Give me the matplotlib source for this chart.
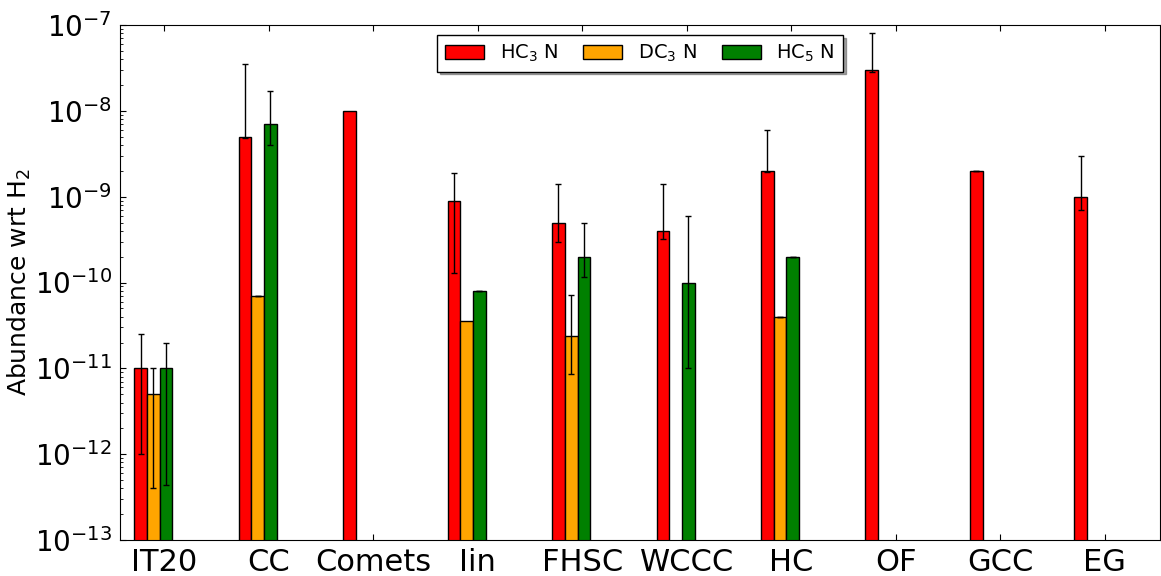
import numpy as np
from matplotlib import pyplot as plt

nan = np.nan

sources = ['IT20', 'CC', 'Comets', 'Iin', 'FHSC', 'WCCC', 'HC', 'OF', 'GCC', 'EG']

# abundances and lower / upper limits of the error bars
hc3n = [1e-11, 5e-9, 1e-8, 9e-10, 5e-10, 4e-10, 2e-9, 3e-8, 2e-9, 1e-9]
hc3n_lo = [1e-12, 4.8e-9, nan, 1.3e-10, 3e-10, 3.2e-10, 1.95e-9, 2.85e-8, 2e-9, 7e-10]
hc3n_hi = [2.5e-11, 3.5e-8, nan, 1.9e-9, 1.4e-9, 1.4e-9, 6e-9, 8e-8, 2e-9, 3e-9]

dc3n = [5e-12, 7e-11, nan, 3.6e-11, 2.4e-11, nan, 4e-11, nan, nan, nan]
dc3n_lo = [4e-13, 7e-11, nan, nan, 8.7e-12, nan, 4e-11, nan, nan, nan]
dc3n_hi = [1e-11, 7e-11, nan, nan, 7.2e-11, nan, 4e-11, nan, nan, nan]

hc5n = [1e-11, 7e-9, nan, 8e-11, 2e-10, 1e-10, 2e-10, nan, nan, nan]
hc5n_lo = [4.4e-13, 4e-9, nan, 8e-11, 1.17e-10, 1e-11, 2e-10, nan, nan, nan]
hc5n_hi = [2e-11, 1.7e-8, nan, 8e-11, 5e-10, 6e-10, 2e-10, nan, nan, nan]

labels = ['HC$_3$ N', 'DC$_3$ N', 'HC$_5$ N']
colors = ['red', 'orange', 'green']
offsets = [-0.229, -0.107, 0.015]
width = 0.122

fig = plt.figure(figsize=(11.61, 5.76), dpi=100)
ax = fig.add_axes([0.1034, 0.0625, 0.8958, 0.894])

ind = np.arange(len(sources))
series = [(hc3n, hc3n_lo, hc3n_hi), (dc3n, dc3n_lo, dc3n_hi), (hc5n, hc5n_lo, hc5n_hi)]
for (vals, lo, hi), lab, col, off in zip(series, labels, colors, offsets):
    vals = np.array(vals)
    lo = np.array(lo)
    hi = np.array(hi)
    ok = ~np.isnan(vals)
    ax.bar(ind[ok] + off, vals[ok], width, color=col, edgecolor='black',
           linewidth=1, label=lab, zorder=2)
    ek = ok & ~np.isnan(lo)
    yerr = [vals[ek] - lo[ek], hi[ek] - vals[ek]]
    ax.errorbar(ind[ek] + off, vals[ek], yerr=yerr, fmt='none', ecolor='black',
                elinewidth=1, capsize=2.5, capthick=1, zorder=3)

ax.set_yscale('log')
ax.set_ylim(1e-13, 1e-7)
ax.set_xlim(-0.425, 9.53)
ax.set_xticks(ind)
ax.set_xticklabels(sources, fontsize=22)
ax.set_ylabel('Abundance wrt H$_2$', fontsize=18)
ax.yaxis.set_label_coords(-0.084, 0.5)
ax.tick_params(axis='y', labelsize=20)
ax.tick_params(which='both', direction='in', top=True, right=False)
ax.tick_params(which='major', length=4, pad=6)
ax.tick_params(which='minor', length=2)

leg = ax.legend(loc='upper center', ncol=3, fontsize=14, shadow=True,
                fancybox=False, edgecolor='black', framealpha=1,
                columnspacing=1.3)
leg.get_frame().set_linewidth(1)

plt.savefig('out.png', dpi=100)
